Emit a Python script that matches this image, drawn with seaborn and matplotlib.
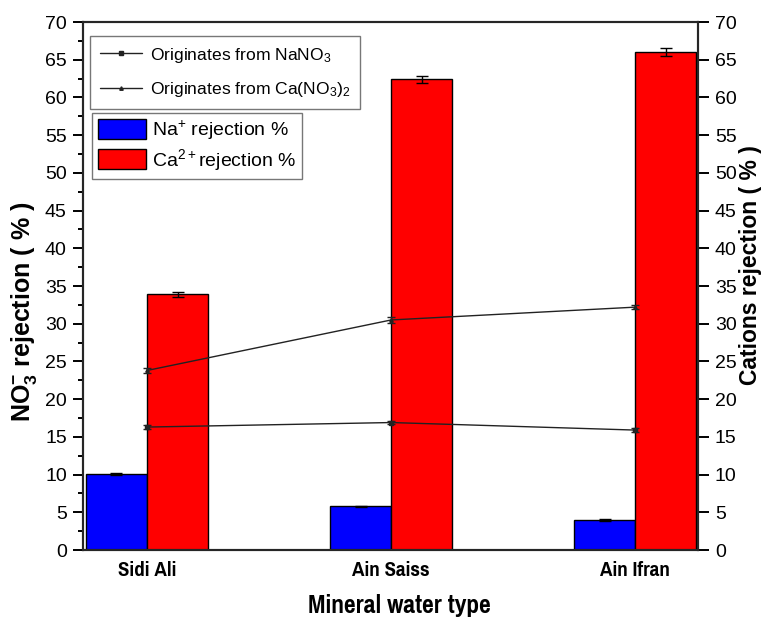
import numpy as np
import pandas as pd
import matplotlib
matplotlib.use("Agg")
import matplotlib.pyplot as plt
from matplotlib.ticker import MultipleLocator
from matplotlib.lines import Line2D
from matplotlib.patches import Patch
import seaborn as sns

# ---- data ----
waters = ["Sidi Ali", "Ain Saiss", "Ain Ifran"]
na_rejection = [10.1, 5.8, 4.0]
na_err = [0.15, 0.1, 0.1]
ca_rejection = [33.9, 62.4, 66.0]
ca_err = [0.35, 0.5, 0.5]
no3_from_nano3 = [16.3, 16.9, 15.9]
no3_from_nano3_err = [0.25, 0.25, 0.25]
no3_from_cano3 = [23.8, 30.5, 32.2]
no3_from_cano3_err = [0.3, 0.35, 0.3]
ion_labels = ["Na$^{+}$ rejection %", "Ca$^{2+}$rejection %"]
line_labels = ["Originates from NaNO$_{3}$", "Originates from Ca(NO$_{3}$)$_{2}$"]

sns.set_style("white")
plt.rcParams["font.family"] = ["Liberation Sans", "DejaVu Sans"]
plt.rcParams["mathtext.fontset"] = "custom"
plt.rcParams["mathtext.rm"] = "Liberation Sans"
plt.rcParams["mathtext.bf"] = "Liberation Sans:bold"
plt.rcParams["mathtext.default"] = "regular"
for k in ["text.color", "axes.labelcolor", "xtick.color", "ytick.color"]:
    plt.rcParams[k] = "black"

narrow = ["Pragati Narrow", "Liberation Sans"]

df = pd.DataFrame({
    "water": waters * 2,
    "value": na_rejection + ca_rejection,
    "ion": [ion_labels[0]] * 3 + [ion_labels[1]] * 3,
})

fig = plt.figure(figsize=(7.65, 6.18), dpi=100)
ax = fig.add_axes([0.1085, 0.110, 0.8035, 0.8544])

sns.barplot(data=df, x="water", y="value", hue="ion", order=waters,
            hue_order=ion_labels, palette=["#0000ff", "#ff0000"],
            width=0.5, edgecolor="black", linewidth=1.0, saturation=1,
            errorbar=None, legend=False, ax=ax, zorder=2)

# error bars on bars (from patch centers)
patches = sorted(ax.patches, key=lambda p: p.get_x())
errs = []
vals = []
for i in range(3):
    vals += [na_rejection[i], ca_rejection[i]]
    errs += [na_err[i], ca_err[i]]
cx = [p.get_x() + p.get_width() / 2 for p in patches]
ax.errorbar(cx, vals, yerr=errs, fmt="none", ecolor="black",
            elinewidth=1, capsize=4, capthick=1, zorder=3)

xpos = np.arange(len(waters))
ax.errorbar(xpos, no3_from_nano3, yerr=no3_from_nano3_err, color="#222222",
            lw=1, marker="s", ms=2.5, capsize=3, capthick=1, zorder=4)
ax.errorbar(xpos, no3_from_cano3, yerr=no3_from_cano3_err, color="#222222",
            lw=1, marker="^", ms=2.5, capsize=3, capthick=1, zorder=4)

ax.set_xlim(-0.262, 2.255)
ax.set_ylim(0, 70)
ax.yaxis.set_major_locator(MultipleLocator(5))
ax.yaxis.set_minor_locator(MultipleLocator(2.5))
ax.tick_params(axis="y", which="major", direction="out", length=7.2, width=1.4,
               labelsize=14, pad=4.5)
ax.tick_params(axis="y", which="minor", direction="out", length=3.4, width=1.4)
ax.tick_params(axis="x", which="both", length=0, pad=8)
for lab in ax.get_xticklabels():
    lab.set_fontfamily(narrow)
    lab.set_fontweight("bold")
    lab.set_fontsize(16.5)
for s in ax.spines.values():
    s.set_linewidth(1.5)
    s.set_color("black")

ax.set_xlabel("Mineral water type", fontsize=20, fontweight="bold", family=narrow)
ax.xaxis.set_label_coords(0.5154, -0.084)
ax.set_ylabel(r"NO$_{\mathbf{3}}^{\mathbf{-}}$ rejection ( % )", fontsize=18,
              fontweight="bold")
ax.yaxis.set_label_coords(-0.071, 0.451)

ax2 = ax.twinx()
ax2.set_ylim(0, 70)
ax2.yaxis.set_major_locator(MultipleLocator(5))
ax2.tick_params(axis="y", direction="out", length=7.8, width=1.4, labelsize=14, pad=4.5)
ax2.set_ylabel("Cations rejection ( % )", fontsize=16.5, fontweight="bold")
ax2.yaxis.set_label_coords(1.068, 0.539)
for s in ax2.spines.values():
    s.set_linewidth(1.5)

# legends
lh = [Line2D([], [], color="#222222", lw=1, marker="s", ms=2.5),
      Line2D([], [], color="#222222", lw=1, marker="^", ms=2.5)]
leg1 = ax2.legend(lh, line_labels, loc="upper left",
                  bbox_to_anchor=(0.0114, 0.9735), borderaxespad=0,
                  fontsize=12.6, frameon=True,
                  fancybox=False, edgecolor="#555555", handlelength=2.4,
                  borderpad=0.55, labelspacing=0.9, handletextpad=0.5)
leg1.get_frame().set_linewidth(1)
ax2.add_artist(leg1)
bh = [Patch(facecolor="#0000ff", edgecolor="black"),
      Patch(facecolor="#ff0000", edgecolor="black")]
leg2 = ax2.legend(bh, ion_labels, loc="upper left",
                  bbox_to_anchor=(0.0146, 0.8277), borderaxespad=0,
                  fontsize=14, frameon=True,
                  fancybox=False, edgecolor="#555555", handlelength=2.5,
                  handleheight=1.2, borderpad=0.3, labelspacing=0.25,
                  handletextpad=0.3)
leg2.get_frame().set_linewidth(1)

fig.savefig("out.png", dpi=100)
